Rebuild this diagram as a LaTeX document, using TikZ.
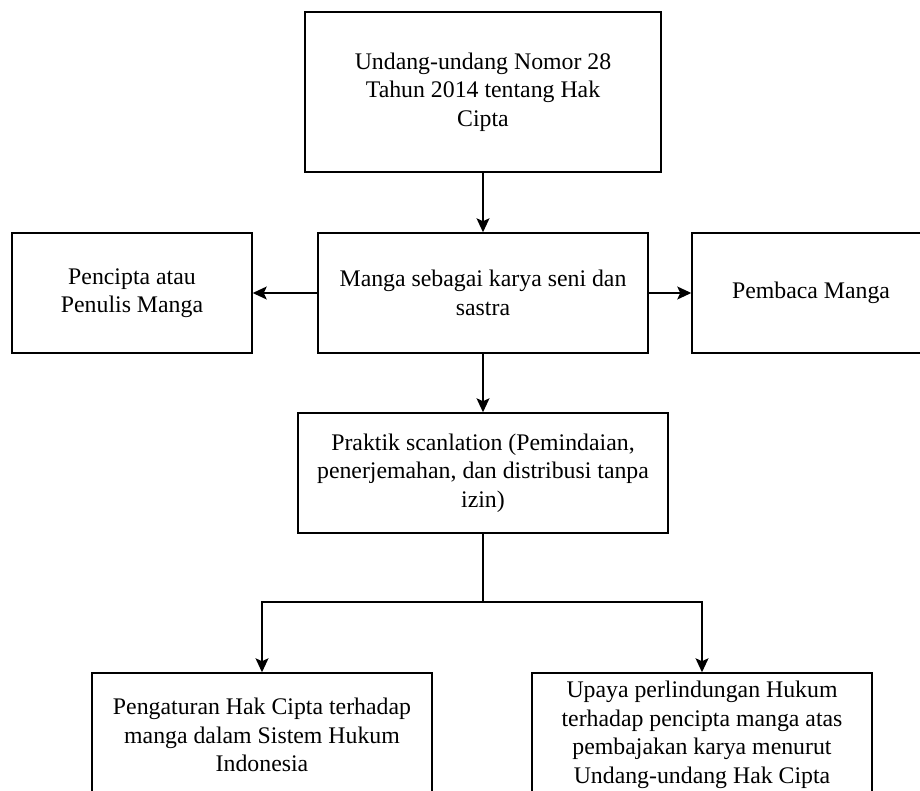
\documentclass[tikz,border=0pt]{standalone}
\usepackage{fontspec}
\setmainfont{Liberation Serif}
\usetikzlibrary{arrows.meta}
\tikzset{
  box/.style={draw, line width=1.5pt, align=center, inner sep=0pt, font=\fontsize{23.8}{28.5}\selectfont},
  arr/.style={-{Stealth[length=14pt,width=13pt,inset=3pt]}, line width=1.5pt}
}
\begin{document}
\begin{tikzpicture}[x=1pt,y=-1pt]
\clip (0,0) rectangle (920,790);
\node[box, minimum width=356pt, minimum height=160pt] (uu) at (483,92) {Undang-undang Nomor 28\\Tahun 2014 tentang Hak\\Cipta};
\node[box, minimum width=330pt, minimum height=120pt] (manga) at (483,293) {Manga sebagai karya seni dan\\sastra};
\node[box, minimum width=240pt, minimum height=120pt] (pencipta) at (132,293) {Pencipta atau\\Penulis Manga};
\node[box, minimum width=238pt, minimum height=120pt] (pembaca) at (811,293) {Pembaca Manga};
\node[box, minimum width=370pt, minimum height=120pt] (scan) at (483,473) {Praktik scanlation (Pemindaian,\\penerjemahan, dan distribusi tanpa\\izin)};
\node[box, minimum width=340pt, minimum height=124pt] (atur) at (262,735) {Pengaturan Hak Cipta terhadap\\manga dalam Sistem Hukum\\Indonesia};
\node[box, minimum width=340pt, minimum height=124pt] (upaya) at (702,735) {Upaya perlindungan Hukum\\terhadap pencipta manga atas\\pembajakan karya menurut\\Undang-undang Hak Cipta};
\coordinate (split) at (483,602);
% connectors
\draw[arr] (uu) -- (manga);
\draw[arr] (manga) -- (pencipta);
\draw[arr] (manga) -- (pembaca);
\draw[arr] (manga) -- (scan);
\draw[line width=1.5pt] (scan) -- (split);
\draw[arr] (split) -| (atur.north);
\draw[arr] (split) -| (upaya.north);
\end{tikzpicture}
\end{document}
